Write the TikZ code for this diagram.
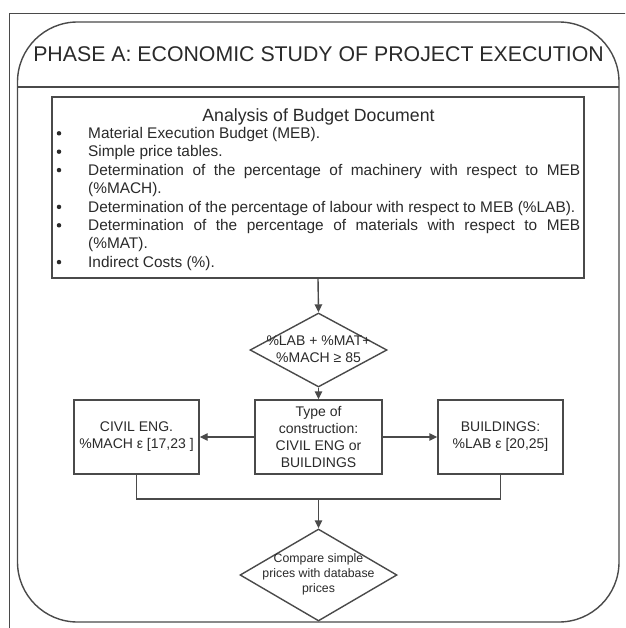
\documentclass[tikz,border=0pt]{standalone}
\usepackage{fontspec}
\setmainfont{Liberation Sans}
\usetikzlibrary{arrows.meta,shapes.geometric}
\definecolor{ln}{HTML}{4A4A4A}
\definecolor{tx}{HTML}{2A2A2A}
\begin{document}
\begin{tikzpicture}[x=1pt,y=-1pt,
  conn/.style={draw=ln, line width=1.4pt},
  arr/.style={conn, -{Triangle[length=8pt,width=7.5pt]}},
  bx/.style={draw=ln, line width=1.4pt, inner sep=0pt, minimum height=74pt},
  boxtext/.style={text=tx, font=\fontsize{14}{17}\selectfont, align=center},
  smalltext/.style={text=tx, font=\fontsize{12.3}{15}\selectfont, align=center, inner sep=0pt},
  dia/.style={diamond, draw=ln, line width=1.4pt, inner sep=0pt},
  bodyline/.style={anchor=base west, inner sep=0pt, text=tx, font=\fontsize{15.4}{18.4}\selectfont},
  bul/.style={circle, fill=tx, inner sep=0pt, minimum size=4.5pt}]
\useasboundingbox (0,0) rectangle (625,628);
\clip (0,0) rectangle (625,628);
\fill[white] (0,0) rectangle (625,628);
% outer frame
\draw[conn] (9.5,640) -- (9.5,13.5) -- (640,13.5);
% rounded phase frame
\draw[conn, rounded corners=60pt] (17.5,22) rectangle (619,622);
\draw[conn] (17.5,87) -- (619,87);
\node[anchor=base, inner sep=0pt, text=tx, font=\fontsize{21.3}{25}\selectfont] (title) at (318.5,62) {PHASE A: ECONOMIC STUDY OF PROJECT EXECUTION};
% analysis box
\node[bx, minimum width=532pt, minimum height=181pt] (ana) at (318,187.5) {};
\node[anchor=base, inner sep=0pt, text=tx, font=\fontsize{17.7}{21}\selectfont] (anat) at (318.5,121.4) {Analysis of Budget Document};
\node[bodyline] (l1) at (88,138.5) {Material Execution Budget (MEB).};
\node[bodyline] (l2) at (88,156.9) {Simple price tables.};
\node[bodyline] (l3) at (88,175.3) {\makebox[492pt][s]{Determination of the percentage of machinery with respect to MEB}};
\node[bodyline] (l4) at (88,193.7) {(\%MACH).};
\node[bodyline] (l5) at (88,212.1) {Determination of the percentage of labour with respect to MEB (\%LAB).};
\node[bodyline] (l6) at (88,230.5) {\makebox[492pt][s]{Determination of the percentage of materials with respect to MEB}};
\node[bodyline] (l7) at (88,248.9) {(\%MAT).};
\node[bodyline] (l8) at (88,267.3) {Indirect Costs (\%).};
\node[bul] (b1) at (59,133.3) {};
\node[bul] (b2) at (59,151.7) {};
\node[bul] (b3) at (59,170.1) {};
\node[bul] (b5) at (59,206.9) {};
\node[bul] (b6) at (59,225.3) {};
\node[bul] (b8) at (59,262.1) {};
% decision 1
\node[dia, minimum width=137pt, minimum height=74pt] (d1) at (318.5,350) {};
\node[boxtext, inner sep=0pt] (d1t) at (318.5,349) {\%LAB + \%MAT+\\\%MACH ≥ 85};
% boxes
\node[bx, minimum width=127pt, boxtext] (type) at (318.5,437) {Type of\\construction:\\CIVIL ENG or\\BUILDINGS};
\node[bx, minimum width=125pt, boxtext] (civil) at (136.5,437) {CIVIL ENG.\\\%MACH ε [17,23 ]};
\node[bx, minimum width=125pt, boxtext] (build) at (500.5,437) {BUILDINGS:\\\%LAB ε [20,25]};
% decision 2
\node[dia, minimum width=157pt, minimum height=92pt] (d2) at (318.5,575) {};
\node[smalltext] (d2t) at (318.5,574) {Compare simple\\prices with database\\prices};
% connectors
\coordinate (j) at (318.5,499);
\draw[arr] (ana.south) -- (d1.north);
\draw[arr] (d1.south) -- (type.north);
\draw[arr] (type.west) -- (civil.east);
\draw[arr] (type.east) -- (build.west);
\draw[conn] (civil.south) |- (j) -| (build.south);
\draw[arr] (j) -- (d2.north);
\end{tikzpicture}
\end{document}
